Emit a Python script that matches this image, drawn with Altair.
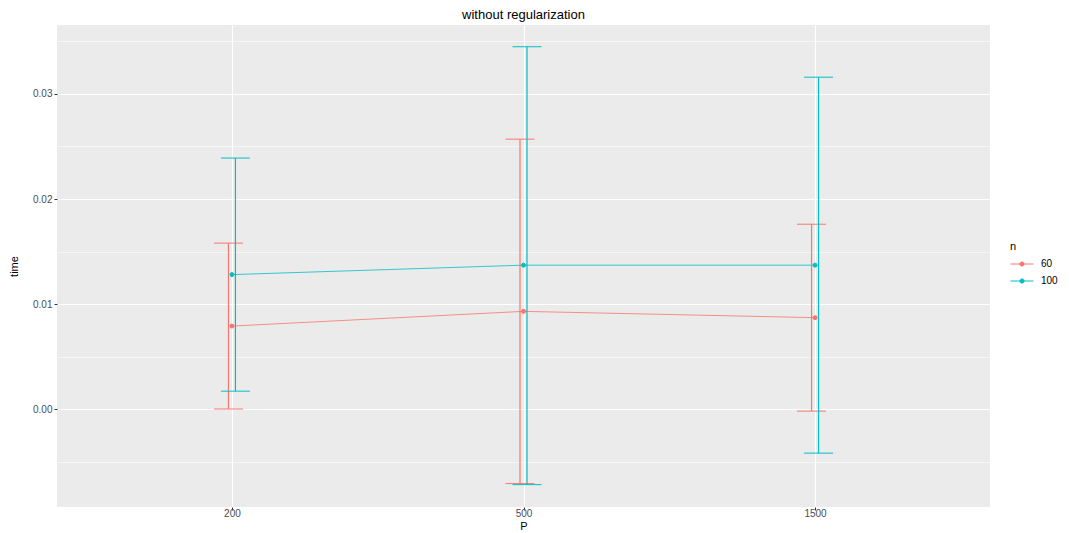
import altair as alt
import pandas as pd

P = ["200", "500", "1500"]
n_levels = ["60", "100"]
mean_60 = [0.0079, 0.0093, 0.0087]
lo_60 = [0.0000, -0.0071, -0.0002]
hi_60 = [0.0158, 0.0257, 0.0176]
mean_100 = [0.0128, 0.0137, 0.0137]
lo_100 = [0.0017, -0.0072, -0.0042]
hi_100 = [0.0239, 0.0345, 0.0316]
colors = ["#F8766D", "#00BFC4"]

rows = []
for n, m, lo, hi in [("60", mean_60, lo_60, hi_60), ("100", mean_100, lo_100, hi_100)]:
    for i, p in enumerate(P):
        rows.append({"P": p, "n": n, "time": m[i], "lo": lo[i], "hi": hi[i]})
df = pd.DataFrame(rows)

xs = alt.Scale(type="point", domain=P, padding=0.6)
ys = alt.Scale(domain=[-0.00933, 0.03657], nice=False, zero=False)
cs = alt.Scale(domain=n_levels, range=colors)

minor = "round(datum.value*1000) % 10 != 0"
x_enc = alt.X("P:O", scale=xs, sort=P,
              axis=alt.Axis(title="P", labelAngle=0, grid=True, gridColor="white", gridWidth=1.1,
                            tickColor="#333333", tickSize=3, labelColor="#4D4D4D", labelFontSize=10,
                            labelBaseline="middle", labelPadding=3,
                            titleFontSize=11, titleFontWeight="normal",
                            titlePadding=2, domain=False))
y_vals = [-0.005, 0.0, 0.005, 0.01, 0.015, 0.02, 0.025, 0.03, 0.035]
y_enc = alt.Y("time:Q", scale=ys,
              axis=alt.Axis(title="time", values=y_vals, grid=True, gridColor="white",
                            gridWidth={"condition": {"test": minor, "value": 0.55}, "value": 1.1},
                            tickOpacity={"condition": {"test": minor, "value": 0}, "value": 1},
                            labelExpr="round(datum.value*1000) % 10 != 0 ? '' : format(datum.value, '.2f')",
                            tickColor="#333333", tickSize=3, labelColor="#4D4D4D", labelFontSize=10,
                            labelPadding=2, titleFontSize=11, titleFontWeight="normal",
                            titlePadding=13, domain=False))

legend = alt.Legend(title="n", orient="none", legendX=953, legendY=216,
                    symbolType="M-1,0H1M0.18,0A0.18,0.18 0 1 1 -0.18,0A0.18,0.18 0 1 1 0.18,0Z",
                    symbolSize=529, symbolStrokeWidth=1,
                    titleFontSize=11, titleFontWeight="normal", labelFontSize=10,
                    labelColor="#000000", rowPadding=-7, labelOffset=7, titlePadding=0)
stroke_enc = alt.Stroke("n:N", scale=cs, sort=n_levels, legend=legend)
fill_enc = alt.Fill("n:N", scale=cs, sort=n_levels, legend=legend)

base = alt.Chart(df)

line = base.mark_line(strokeWidth=0.8).encode(
    x=x_enc, y=y_enc, detail="n:N", stroke=stroke_enc)

layers = []
for k, (nv, off) in enumerate([("60", -3.5), ("100", 3.5)]):
    sub = base.transform_filter(alt.datum.n == nv)
    layers.append(sub.mark_rule(strokeWidth=1.2, xOffset=off).encode(
        x=alt.X("P:O", scale=xs, sort=P), y=alt.Y("lo:Q", scale=ys), y2="hi:Q",
        stroke=stroke_enc))
    for col in ["lo", "hi"]:
        layers.append(sub.mark_tick(size=29, thickness=1, xOffset=off, opacity=1).encode(
            x=alt.X("P:O", scale=xs, sort=P), y=alt.Y(col + ":Q", scale=ys),
            fill=fill_enc))

pts = base.mark_point(filled=False, size=16, opacity=1, strokeWidth=1).encode(
    x=alt.X("P:O", scale=xs, sort=P), y=alt.Y("time:Q", scale=ys),
    stroke=stroke_enc, fill=fill_enc)

chart = alt.layer(line, *layers, pts).properties(
    width=933, height=482,
    title=alt.TitleParams("without regularization", fontSize=13, fontWeight="normal",
                          anchor="middle", offset=3, color="black"),
    autosize=alt.AutoSizeParams(type="none"),
    padding={"left": 49, "top": 17, "right": 71, "bottom": 24},
).configure(font="Liberation Sans", background="white").configure_view(
    fill="#EBEBEB", stroke=None)

chart.save("out.html", embed_options={"renderer": "svg", "actions": False})
